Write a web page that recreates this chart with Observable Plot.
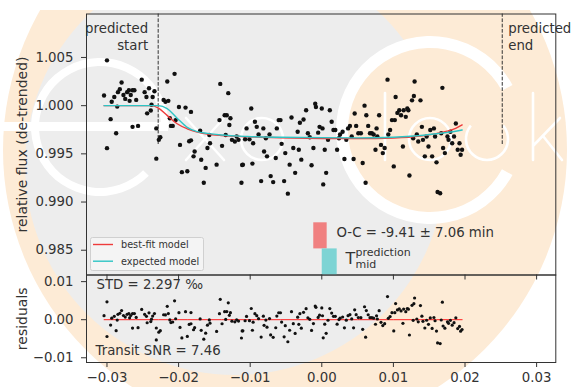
<!DOCTYPE html>
<html><head><meta charset="utf-8">
<script src="https://cdn.jsdelivr.net/npm/d3@7"></script>
<script src="https://cdn.jsdelivr.net/npm/@observablehq/plot@0.6"></script>
<style>
body{margin:0;background:#fff;}
#chart{position:relative;width:573px;height:387px;overflow:hidden;font-family:"DejaVu Sans";}
#chart svg{position:absolute;left:0;}
</style></head><body><div id="chart"></div>
<script>
// ---- data ----
const time = [-0.03041,-0.03000,-0.03000,-0.02949,-0.02934,-0.02898,-0.02872,-0.02857,-0.02847,-0.02821,-0.02796,-0.02770,-0.02745,-0.02719,-0.02694,-0.02684,-0.02668,-0.02643,-0.02643,-0.02617,-0.02592,-0.02566,-0.02515,-0.02474,-0.02449,-0.02439,-0.02413,-0.02388,-0.02378,-0.02362,-0.02337,-0.02311,-0.02311,-0.02276,-0.02255,-0.02209,-0.02184,-0.02158,-0.02143,-0.02122,-0.02107,-0.02082,-0.02056,-0.02041,-0.01995,-0.01980,-0.01954,-0.01903,-0.01878,-0.01852,-0.01827,-0.01827,-0.01791,-0.01776,-0.01699,-0.01684,-0.01648,-0.01622,-0.01597,-0.01571,-0.01561,-0.01469,-0.01429,-0.01418,-0.01393,-0.01357,-0.01342,-0.01327,-0.01306,-0.01291,-0.01276,-0.01255,-0.01214,-0.01189,-0.01163,-0.01122,-0.01112,-0.01102,-0.01071,-0.01051,-0.01010,-0.00985,-0.00969,-0.00959,-0.00934,-0.00908,-0.00883,-0.00847,-0.00816,-0.00806,-0.00781,-0.00765,-0.00730,-0.00714,-0.00679,-0.00643,-0.00628,-0.00602,-0.00577,-0.00561,-0.00526,-0.00510,-0.00474,-0.00449,-0.00423,-0.00398,-0.00372,-0.00337,-0.00321,-0.00306,-0.00286,-0.00255,-0.00219,-0.00194,-0.00168,-0.00143,-0.00117,-0.00092,-0.00082,-0.00051,-0.00031,0.00000,0.00010,0.00020,0.00041,0.00061,0.00087,0.00112,0.00138,0.00163,0.00189,0.00214,0.00240,0.00255,0.00291,0.00316,0.00342,0.00367,0.00393,0.00418,0.00444,0.00459,0.00480,0.00510,0.00546,0.00571,0.00597,0.00612,0.00622,0.00648,0.00673,0.00699,0.00724,0.00750,0.00765,0.00776,0.00801,0.00827,0.00852,0.00878,0.00918,0.00929,0.00954,0.00980,0.01005,0.01020,0.01031,0.01056,0.01082,0.01107,0.01133,0.01143,0.01173,0.01194,0.01209,0.01224,0.01260,0.01276,0.01286,0.01296,0.01327,0.01347,0.01378,0.01398,0.01413,0.01439,0.01464,0.01490,0.01515,0.01541,0.01566,0.01582,0.01602,0.01617,0.01653,0.01668,0.01684,0.01694,0.01719,0.01755,0.01770,0.01796,0.01821,0.01847,0.01872,0.01898,0.01923,0.01939,0.01959];
const flux = [1.00106,1.00470,0.99559,0.99860,1.00040,1.00090,0.99713,0.99990,1.00140,1.00170,1.00240,1.00110,1.00070,1.00140,1.00160,1.00050,1.00110,1.00160,0.99780,1.00160,1.00060,0.99790,1.00270,1.00140,1.00090,0.99920,1.00180,0.99950,1.00010,1.00090,1.00150,0.99764,0.99450,0.99645,0.99672,1.00060,1.00040,1.00250,1.00050,0.99870,0.99790,0.99790,1.00330,0.99850,0.99986,0.99593,0.99310,0.99980,0.99320,0.99630,0.99640,0.99935,0.99474,0.99525,0.99740,0.99439,0.99200,0.99354,0.99560,0.99696,0.99610,0.99388,0.99850,1.00226,0.99583,0.99900,0.99696,0.99900,1.00130,0.99800,0.99870,0.99645,0.99628,0.99680,0.99645,0.99200,0.99385,0.99388,0.99651,0.99764,0.99651,0.99970,0.99399,0.99610,0.99833,0.99780,0.99700,0.99217,0.99764,0.99525,0.99662,0.99474,0.99700,0.99269,0.99207,0.99457,0.99764,0.99850,0.99850,0.99604,0.99217,0.99508,0.99087,0.99388,0.99877,0.99560,0.99303,0.99730,0.99542,0.99822,0.99440,0.99856,0.99952,0.99713,0.99672,0.99381,0.99560,1.00020,0.99986,0.99720,0.99780,0.99970,0.99764,0.99183,0.99542,0.99303,0.99645,0.99952,0.99833,0.99747,0.99747,0.99542,0.99662,0.99700,0.99730,0.99446,0.99645,0.99764,0.99790,0.99680,0.99446,0.99918,0.99790,0.99713,0.99713,0.99405,1.00000,0.99200,0.99900,0.99790,0.99713,0.99713,0.99700,0.99542,0.99764,0.99680,0.99900,0.99593,0.99508,0.99560,1.00270,0.99700,0.99747,0.99850,0.99370,0.99850,1.00090,0.99925,0.99952,0.99900,0.99576,0.99952,0.99884,0.99970,0.99952,0.99275,1.00055,0.99662,1.00100,1.00250,0.99700,0.99628,1.00055,0.99780,0.99645,0.99474,0.99680,0.99576,0.99747,0.99474,0.99764,0.99680,0.99412,0.99104,0.99091,0.99713,1.00185,0.99560,0.99508,0.99680,0.99645,0.99730,0.99610,0.99680,0.99815,0.99542,0.99610,0.99491,0.99542];
const modelTime     = [-0.0304,-0.0260,-0.0239,-0.0228,-0.0216,-0.0202,-0.0188,-0.0174,-0.0160,-0.0140,-0.0104,-0.0058,0.0000,0.0050,0.0100,0.0138,0.0160,0.0175,0.0187,0.0196];
const bestFitModel  = [1.00000,1.00000,1.00000,0.99975,0.99899,0.99812,0.99760,0.99725,0.99705,0.99690,0.99677,0.99667,0.99660,0.99658,0.99665,0.99685,0.99710,0.99735,0.99765,0.99800];
const expectedModel = [1.00000,1.00000,1.00000,1.00000,0.99970,0.99870,0.99775,0.99730,0.99712,0.99695,0.99680,0.99672,0.99668,0.99666,0.99672,0.99690,0.99708,0.99722,0.99735,0.99748];
const predictedStart = -0.02285;
const predictedEnd = 0.02520;
const bestFitMid = [-0.00112, 0.00075];
const predictedMid = [0.00006, 0.00215];
const xTicks = [-0.03,-0.02,-0.01,0,0.01,0.02,0.03];
const fluxTicks = [0.985,0.990,0.995,1.000,1.005];
const residTicks = [-0.01,0,0.01];
const ocText = "O-C = -9.41 ± 7.06 min";
const stdText = "STD = 2.297 ‰";
const snrText = "Transit SNR = 7.46";
const legendLabels = ["best-fit model","expected model"];

// ---- derived tables ----
const interp = (t) => {
  let i = d3.bisectRight(modelTime, t) - 1;
  i = Math.max(0, Math.min(modelTime.length - 2, i));
  const a = (t - modelTime[i]) / (modelTime[i+1] - modelTime[i]);
  return bestFitModel[i] + a * (bestFitModel[i+1] - bestFitModel[i]);
};
const points = time.map((t, i) => ({t, f: flux[i], r: flux[i] - interp(t)}));
const model = modelTime.map((t, i) => ({t, best: bestFitModel[i], exp: expectedModel[i]}));

const xDomain = [-0.03286, 0.03268];
const fDomain = [0.98243, 1.00951];
const rDomain = [-0.01124, 0.01174];
const fAt = (frac) => fDomain[0] + frac * (fDomain[1] - fDomain[0]);

const RED = "#ee3b3b", CYAN = "#2ec4c4", INK = "#333";
const baseStyle = {background: "transparent", fontFamily: "DejaVu Sans", fontSize: "13.3px", color: INK, overflow: "visible"};

const chart = d3.select("#chart");

// ---- background watermark (decoration) ----
const wm = chart.append("svg").attr("width", 573).attr("height", 387).style("top", "0px");
wm.append("clipPath").attr("id", "wmclip").append("rect").attr("x", 0).attr("y", 10).attr("width", 573).attr("height", 377);
const g = wm.append("g").attr("clip-path", "url(#wmclip)");
const PEACH = "#fdebd6", GRAY = "#ededed", W = "#fff";
g.append("circle").attr("cx", 285).attr("cy", 150).attr("r", 282).attr("fill", PEACH);
g.append("circle").attr("cx", 235).attr("cy", 165).attr("r", 210).attr("fill", GRAY);
g.append("circle").attr("cx", 430).attr("cy", 130).attr("r", 84).attr("fill", PEACH);
g.append("path").attr("transform", "translate(430,130)")
  .attr("d", d3.arc()({innerRadius: 82, outerRadius: 94, startAngle: Math.PI/2 + 0.5, endAngle: 2.5*Math.PI - 0.5}))
  .attr("fill", W);
g.append("path").attr("transform", "translate(100,127)")
  .attr("d", d3.arc()({innerRadius: 61, outerRadius: 69, startAngle: -1.25*Math.PI, endAngle: 0.5*Math.PI}))
  .attr("fill", W);
g.append("rect").attr("x", 0).attr("y", 122).attr("width", 168).attr("height", 9).attr("fill", W);
const thin = g.append("g").attr("fill", "none").attr("stroke", W).attr("stroke-width", 2.6).attr("stroke-linecap", "round");
thin.append("path").attr("d", "M186,118L224,160M224,118L186,160");              // x
thin.append("circle").attr("cx", 262).attr("cy", 139).attr("r", 21);            // o
thin.append("path").attr("d", "M385,93V160");                                   // l
thin.append("circle").attr("cx", 430).attr("cy", 139).attr("r", 21);            // o
thin.append("path").attr("transform", "translate(487,139)")
  .attr("d", d3.arc()({innerRadius: 21, outerRadius: 21, startAngle: 0.28*Math.PI, endAngle: 1.72*Math.PI})); // c
thin.append("path").attr("d", "M533,93V160M533,146L560,118M543,136L562,160");  // k

// ---- residual panel ----
const bottomPlot = Plot.plot({
  width: 573, height: 113,
  marginLeft: 86, marginRight: 17.7, marginTop: 0.5, marginBottom: 25,
  style: baseStyle,
  x: {domain: xDomain},
  y: {domain: rDomain},
  marks: [
    Plot.line(model, {x: "t", y: 0, stroke: "#ff2020", strokeWidth: 1}),
    Plot.dot(points, {x: "t", y: "r", r: 1.6, fill: "#111", stroke: "none"}),
    Plot.text([stdText], {frameAnchor: "top-left", text: d => d, dx: 10, dy: 10, lineAnchor: "middle", textAnchor: "start", fill: INK}),
    Plot.text([snrText], {frameAnchor: "bottom-left", text: d => d, dx: 9, dy: -11.5, lineAnchor: "middle", textAnchor: "start", fill: INK}),
    Plot.text(["residuals"], {frameAnchor: "left", text: d => d, dx: -64, rotate: -90, fontSize: 14, textAnchor: "middle", lineAnchor: "middle", fill: INK}),
    Plot.frame({stroke: INK, strokeWidth: 1}),
    Plot.axisX({ticks: xTicks, tickSize: 5, tickPadding: 5, tickFormat: d3.format(".2f"), label: null, stroke: INK, fill: INK}),
    Plot.axisY({ticks: residTicks, tickSize: 5, tickPadding: 8, tickFormat: d3.format(".2f"), label: null, stroke: INK, fill: INK})
  ]
});
d3.select(bottomPlot).style("top", "274px");
chart.node().appendChild(bottomPlot);

// ---- light curve panel ----
const topPlot = Plot.plot({
  width: 573, height: 280,
  marginLeft: 86, marginRight: 17.7, marginTop: 13.5, marginBottom: 5.5,
  style: baseStyle,
  x: {domain: xDomain},
  y: {domain: fDomain},
  marks: [
    Plot.rect([bestFitMid], {x1: d => d[0], x2: d => d[1], y1: () => fAt(0.1), y2: () => fAt(0.2), fill: "#f08080"}),
    Plot.rect([predictedMid], {x1: d => d[0], x2: d => d[1], y1: () => fAt(0), y2: () => fAt(0.1), fill: "#7dd4d4"}),
    Plot.ruleX([predictedStart, predictedEnd], {x: d => d, y1: () => fAt(0.5), y2: () => fAt(1), stroke: INK, strokeWidth: 1, strokeDasharray: "3.7,1.6"}),
    Plot.dot(points, {x: "t", y: "f", r: 2.2, fill: "#111", stroke: "none"}),
    Plot.line(model, {x: "t", y: "best", stroke: RED, strokeWidth: 1.4, curve: "monotone-x"}),
    Plot.line(model, {x: "t", y: "exp", stroke: CYAN, strokeWidth: 1.4, curve: "monotone-x"}),
    Plot.text([predictedStart], {x: d => d, frameAnchor: "top", text: () => "predicted\nstart", dx: -10, dy: 6.5, textAnchor: "end", lineAnchor: "top", lineHeight: 1.28, fill: INK}),
    Plot.text([predictedEnd], {x: d => d, frameAnchor: "top", text: () => "predicted\nend", dx: 6, dy: 6.5, textAnchor: "start", lineAnchor: "top", lineHeight: 1.28, fill: INK}),
    Plot.text([ocText], {frameAnchor: "bottom-left", text: d => d, dx: 250, dy: -42.5, textAnchor: "start", lineAnchor: "middle", fill: INK}),
    Plot.text(["T"], {frameAnchor: "bottom-left", text: d => d, dx: 259, dy: -16, fontSize: 16, textAnchor: "start", lineAnchor: "middle", fill: INK}),
    Plot.text(["prediction"], {frameAnchor: "bottom-left", text: d => d, dx: 269, dy: -22.5, fontSize: 11, textAnchor: "start", lineAnchor: "middle", fill: INK}),
    Plot.text(["mid"], {frameAnchor: "bottom-left", text: d => d, dx: 269, dy: -10.5, fontSize: 11, textAnchor: "start", lineAnchor: "middle", fill: INK}),
    Plot.text(["relative flux (de-trended)"], {frameAnchor: "left", text: d => d, dx: -64, rotate: -90, fontSize: 14, textAnchor: "middle", lineAnchor: "middle", fill: INK}),
    Plot.frame({stroke: INK, strokeWidth: 1}),
    Plot.axisX({ticks: xTicks, tickSize: 5, tickFormat: () => "", label: null, stroke: INK}),
    Plot.axisY({ticks: fluxTicks, tickSize: 5, tickPadding: 8, tickFormat: d3.format(".3f"), label: null, stroke: INK, fill: INK})
  ]
});
d3.select(topPlot).style("top", "0px");
chart.node().appendChild(topPlot);

// legend box (decoration inside the top panel)
const lg = d3.select(topPlot).append("g").attr("font-family", "DejaVu Sans").attr("font-size", 9.7).attr("text-anchor", "start");
lg.append("rect").attr("x", 90.5).attr("y", 237.5).attr("width", 113).attr("height", 33).attr("rx", 2)
  .attr("fill", "rgba(245,245,245,0.8)").attr("stroke", "#d0d0d0");
[RED, CYAN].forEach((c, i) => {
  const y = 244.5 + i * 16.7;
  lg.append("line").attr("x1", 93).attr("x2", 113).attr("y1", y).attr("y2", y).attr("stroke", c).attr("stroke-width", 1.4);
  lg.append("text").attr("x", 121).attr("y", y).attr("dy", "0.35em").attr("text-anchor", "start").attr("fill", INK).text(legendLabels[i]);
});
</script></body></html>
